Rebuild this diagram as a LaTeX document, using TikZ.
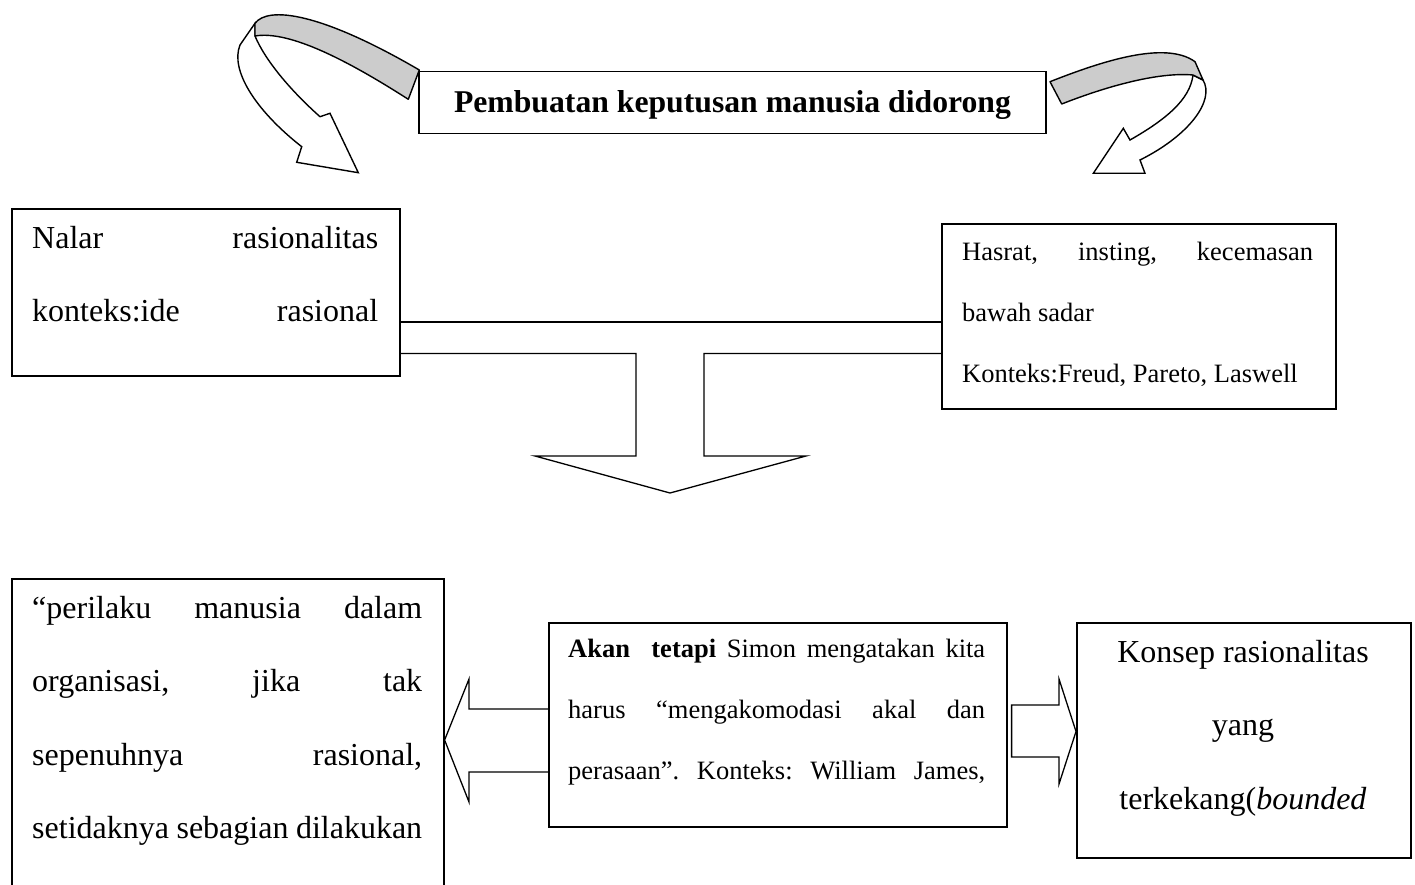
\documentclass[tikz,border=0pt]{standalone}
\usepackage{fontspec}
\setmainfont{Liberation Serif}
\usetikzlibrary{calc}
\newcommand{\jline}[1]{\makebox[\linewidth][s]{#1}}
\definecolor{bandgray}{RGB}{204,204,204}
\tikzset{
  boxst/.style={draw, line width=1.6pt, inner sep=0pt, anchor=north west, fill=white},
  txt/.style={anchor=base west, inner sep=0pt},
  ctxt/.style={anchor=base, inner sep=0pt},
  conn/.style={line width=1.3pt, line join=miter},
  band/.style={fill=bandgray, draw=black, line width=1.4pt, line join=round},
  shaft/.style={fill=white, draw=black, line width=1.4pt, line join=miter},
}
\begin{document}
\frenchspacing
\begin{tikzpicture}[x=1pt,y=-1pt]
\useasboundingbox (0,0) rectangle (1415,885);
\clip (0,0) rectangle (1415,885);

% ---- left curved arrow ----
\draw[shaft] (255,23.3) -- (240,45) .. controls (230,70) and (255,110) .. (301.7,146.7)
  -- (296.7,162.3) -- (358.3,172.7) -- (330,113.3) -- (320,116.7)
  .. controls (290,90) and (265,60) .. (255,36) -- cycle;
\draw[band] (255,23.3) .. controls (268,6) and (320,12) .. (419.3,70) -- (408.3,99.3)
  .. controls (350,62) and (290,30) .. (255,36) -- cycle;

% ---- right curved arrow ----
\draw[shaft] (1203,80) .. controls (1215,100) and (1190,135) .. (1140,160)
  -- (1145,173.3) -- (1093.3,173.3) -- (1123.3,128.3) -- (1130,140)
  .. controls (1165,120) and (1190,100) .. (1193,75) -- cycle;
\draw[band] (1050,81.7) .. controls (1100,62) and (1165,40) .. (1195,61.7) -- (1203,80) -- (1193,75)
  .. controls (1160,72) and (1110,85) .. (1061.7,104) -- cycle;

% ---- title ----
\node[draw, line width=1.6pt, fill=white, inner sep=0pt, minimum width=627pt, minimum height=62pt,
      text height=21pt, text depth=0pt, font=\fontsize{31.7}{38}\selectfont\bfseries]
  (title) at (732.5,102.5) {Pembuatan keputusan manusia didorong};

% ---- top boxes ----
\node[boxst, minimum width=388pt, minimum height=167pt] (nalar) at (11,208) {};
\node[txt] (nalartxt) at (32,248) {\parbox[t]{346pt}{\fontsize{32}{73}\selectfont
  \jline{Nalar rasionalitas}\\
  \jline{konteks:ide rasional}}};

\node[boxst, minimum width=394pt, minimum height=185pt] (hasrat) at (941,223) {};
\node[txt] (hasrattxt) at (962,260) {\parbox[t]{351pt}{\fontsize{26.5}{61}\selectfont
  \jline{Hasrat, insting, kecemasan}\\
  bawah sadar\\
  Konteks:Freud, Pareto, Laswell}};

% ---- T connector ----
\coordinate (ya) at (0,322);
\coordinate (yb) at (0,353.5);
\draw[conn] (nalar.east |- ya) -- (hasrat.west |- ya);
\draw[conn] (nalar.east |- yb) -- (636,353.5) -- (636,456) -- (535,456) -- (670,493)
  -- (806,456) -- (704,456) -- (704,353.5) -- (hasrat.west |- yb);

% ---- bottom boxes ----
\node[boxst, minimum width=432pt, minimum height=330pt] (perilaku) at (11,578) {};
\node[txt] (perilakutxt) at (32,618) {\parbox[t]{390pt}{\fontsize{32}{73.6}\selectfont
  \jline{“perilaku manusia dalam}\\
  \jline{organisasi, jika tak}\\
  \jline{sepenuhnya rasional,}\\
  \jline{setidaknya sebagian dilakukan}}};

\node[boxst, minimum width=458pt, minimum height=204pt] (akan) at (548,622) {};
\node[txt] (akantxt) at (568,657) {\parbox[t]{417pt}{\fontsize{26.5}{61}\selectfont
  \jline{\textbf{Akan}\ \ \textbf{tetapi} Simon mengatakan kita}\\
  \jline{harus “mengakomodasi akal dan}\\
  \jline{perasaan”. Konteks: William James,}}};

\node[boxst, minimum width=334pt, minimum height=235pt] (konsep) at (1076,622) {};
\node[ctxt] (konseptxt) at (1243,662) {\parbox[t]{320pt}{\centering\fontsize{32}{73.6}\selectfont
  Konsep rasionalitas\\
  yang\\
  terkekang(\textit{bounded}}};

% ---- bottom block arrows ----
\coordinate (l1) at (0,709);
\coordinate (l2) at (0,772);
\coordinate (lt) at (0,740);
\draw[conn] (akan.west |- l1) -- (469,709) -- (469,679) -- (perilaku.east |- lt)
  -- (469,802) -- (469,772) -- (akan.west |- l2);

\coordinate (r1) at (0,705);
\coordinate (r2) at (0,757);
\coordinate (rt) at (0,731.5);
\draw[conn] ($(akan.east |- r1)+(4,0)$) -- (1059,705) -- (1059,679) -- (konsep.west |- rt)
  -- (1059,784) -- (1059,757) -- ($(akan.east |- r2)+(4,0)$) -- cycle;
\end{tikzpicture}
\end{document}
